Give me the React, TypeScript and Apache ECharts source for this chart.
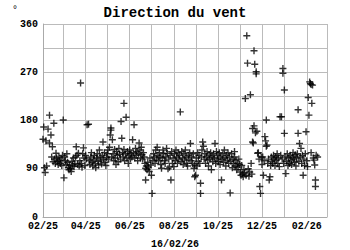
import React, { useEffect, useRef } from "react";
import * as echarts from "echarts";

// Day offsets counted from 2025-02-01, wind direction in degrees
const START = Date.UTC(2025, 1, 1);
const DAY_COUNT = 394; // 2025-02-01 .. 2026-03-01

const febMar2025: [number, number][] = [
  [0, 145], [1, 168], [2, 92], [3, 83], [4, 142], [5, 95], [7, 164], [9, 190], [9, 138], [11, 153],
  [13, 131], [15, 175], [12, 112], [14, 103], [16, 108], [17, 100], [18, 119], [19, 110], [20, 103],
  [21, 98], [22, 112], [23, 105], [24, 100], [25, 108], [26, 96], [27, 115],
  [28, 181], [29, 73], [30, 112], [31, 105], [32, 98], [33, 118], [34, 102], [35, 92], [36, 88],
  [37, 96], [38, 90], [39, 85], [40, 104], [41, 97], [42, 110], [43, 94], [44, 100], [45, 112],
  [46, 131], [47, 115], [48, 98], [49, 119], [50, 95], [51, 105], [52, 250], [53, 100], [54, 93],
  [55, 118], [56, 129], [57, 110], [58, 96],
];

const aprMay2025: [number, number][] = [
  [59, 115], [60, 108], [61, 172], [63, 173], [64, 105], [65, 98], [66, 112], [67, 120], [68, 102],
  [69, 95], [70, 108], [71, 115], [72, 100], [73, 92], [74, 110], [75, 118], [76, 104], [77, 97],
  [78, 125], [79, 112], [80, 106], [81, 99], [82, 115], [83, 140], [84, 108], [85, 120], [86, 102],
  [87, 96], [88, 111],
  [89, 118], [90, 125], [91, 108], [92, 130], [93, 153], [94, 162], [94, 166], [95, 112], [96, 144],
  [97, 118], [98, 105], [99, 126], [100, 110], [101, 98], [102, 122], [103, 115], [104, 103],
  [105, 128], [106, 117], [107, 108], [108, 178], [109, 147], [110, 120], [111, 112], [112, 126],
  [112, 212], [113, 105], [114, 118], [115, 186], [116, 110], [117, 122], [118, 100], [119, 115],
];

const junJul2025: [number, number][] = [
  [120, 125], [121, 108], [122, 118], [123, 112], [124, 144], [125, 120], [126, 172], [127, 110],
  [128, 128], [129, 115], [130, 122], [131, 105], [132, 118], [133, 138], [134, 125], [135, 110],
  [136, 130], [137, 116], [138, 108], [139, 120], [140, 112], [141, 100], [142, 91], [142, 69],
  [143, 95], [144, 88], [145, 102], [146, 93], [147, 85], [148, 110], [149, 97],
  [150, 78], [151, 44], [152, 105], [153, 118], [154, 112], [155, 100], [156, 125], [157, 108],
  [158, 130], [159, 115], [160, 105], [161, 120], [162, 112], [163, 98], [164, 91], [165, 110],
  [166, 125], [167, 118], [168, 105], [169, 100], [170, 112], [171, 128], [172, 119], [173, 90],
  [174, 108], [175, 93], [176, 115], [177, 69], [178, 122], [179, 100], [180, 110],
];

const augSep2025: [number, number][] = [
  [181, 94], [182, 118], [183, 105], [184, 125], [185, 112], [186, 100], [187, 120], [188, 108],
  [189, 115], [190, 196], [191, 103], [192, 122], [193, 110], [194, 98], [195, 118], [196, 106],
  [197, 125], [198, 112], [199, 100], [200, 95], [201, 115], [202, 108], [203, 120], [204, 137],
  [205, 105], [206, 112], [207, 100], [208, 118], [209, 91], [210, 97], [211, 78], [210, 75],
  [212, 110], [213, 95], [214, 120], [215, 104], [216, 115], [217, 100], [218, 63], [218, 44],
  [219, 112], [220, 125], [221, 140], [222, 132], [223, 108], [224, 118], [225, 100], [226, 112],
  [227, 122], [228, 106], [229, 95], [230, 115], [231, 108], [232, 120], [233, 88], [234, 112],
  [235, 103], [236, 118], [237, 110], [238, 137], [239, 100], [240, 122], [241, 108],
];

const octNov2025: [number, number][] = [
  [242, 115], [243, 104], [244, 120], [245, 98], [246, 112], [247, 69], [248, 108], [249, 118],
  [250, 102], [251, 125], [252, 110], [253, 95], [254, 115], [255, 106], [256, 120], [257, 100],
  [258, 112], [259, 45], [260, 104], [261, 118], [262, 92], [263, 108], [264, 100], [265, 122],
  [265, 112], [266, 95], [267, 106], [268, 88], [269, 100], [270, 93], [271, 108], [272, 98],
  [273, 84], [274, 78], [275, 96], [276, 80], [277, 75], [278, 88], [279, 82], [280, 221], [281, 78],
  [282, 338], [283, 287], [284, 90], [285, 76], [286, 84], [287, 228], [288, 100], [289, 80],
  [290, 140], [290, 165], [291, 138], [292, 310], [292, 170], [293, 285], [294, 157], [295, 271],
  [295, 267], [296, 160], [297, 119], [298, 120], [299, 108], [300, 57], [301, 44], [302, 112],
];

const decJan2026: [number, number][] = [
  [303, 98], [304, 112], [305, 78], [306, 105], [307, 150], [308, 142], [309, 181], [309, 132],
  [310, 134], [311, 100], [312, 108], [313, 69], [314, 75], [315, 96], [316, 112], [317, 104],
  [318, 100], [319, 115], [320, 108], [321, 96], [322, 112], [323, 106], [324, 118], [325, 100],
  [326, 110], [327, 94], [328, 187], [329, 115], [330, 187], [331, 108], [332, 277], [332, 268],
  [333, 100],
  [334, 237], [334, 156], [335, 112], [336, 81], [337, 104], [338, 118], [339, 96], [340, 110],
  [341, 100], [342, 115], [343, 106], [344, 98], [345, 112], [346, 120], [347, 108], [348, 102],
  [349, 116], [350, 95], [351, 110], [352, 118], [353, 200], [353, 156], [354, 104], [355, 137],
  [356, 112], [357, 128], [358, 100], [359, 115], [360, 78], [361, 108], [362, 96], [363, 118],
  [364, 159],
];

const feb2026: [number, number][] = [
  [365, 105], [366, 94], [367, 223], [368, 190], [369, 252], [370, 249], [371, 247], [371, 120],
  [372, 212], [373, 246], [374, 110], [375, 106], [376, 97], [377, 69], [377, 57], [378, 115],
  [380, 112],
];

const TITLE = "Direction du vent";
const UNIT = "°";
const DATE_LABEL = "16/02/26";

function pad(n: number) {
  return n < 10 ? "0" + n : "" + n;
}

const categories: string[] = [];
for (let i = 0; i < DAY_COUNT; i++) {
  const d = new Date(START + i * 86400000);
  categories.push(d.getUTCFullYear() + "-" + pad(d.getUTCMonth() + 1) + "-" + pad(d.getUTCDate()));
}

const FONT = "'Liberation Mono', 'DejaVu Sans Mono', monospace";
const CROSS = "path://M2.8,0H4.2V2.8H7V4.2H4.2V7H2.8V4.2H0V2.8H2.8Z";

export default function App() {
  const ref = useRef<HTMLDivElement>(null);
  useEffect(() => {
    if (!ref.current) return;
    const chart = echarts.init(ref.current, undefined, { renderer: "svg" });
    const data = [
      ...febMar2025, ...aprMay2025, ...junJul2025, ...augSep2025,
      ...octNov2025, ...decJan2026, ...feb2026,
    ];
    const isMonthStart = (_i: number, v: string) => v.slice(8) === "01";
    const isLabelDay = (_i: number, v: string) => {
      if (v.slice(8) !== "01") return false;
      const m = parseInt(v.slice(5, 7), 10);
      return m % 2 === 0;
    };
    chart.setOption({
      animation: false,
      backgroundColor: "#ffffff",
      grid: { left: 43, right: 23, top: 24, bottom: 33, containLabel: false },
      title: [
        {
          text: TITLE,
          left: "center",
          top: 1,
          textStyle: { fontFamily: FONT, fontWeight: "bold", fontSize: 14, color: "#000" },
        },
        {
          text: UNIT,
          left: 7,
          top: 0,
          textStyle: { fontFamily: FONT, fontWeight: "normal", fontSize: 10, color: "#000" },
        },
        {
          text: DATE_LABEL,
          left: "center",
          top: 234,
          textStyle: { fontFamily: FONT, fontWeight: "bold", fontSize: 10, color: "#000" },
        },
      ],
      xAxis: {
        type: "category",
        data: categories,
        boundaryGap: false,
        axisLine: { show: true, lineStyle: { color: "#aaaaaa", width: 1 } },
        axisTick: { show: false },
        splitLine: { show: true, interval: isMonthStart, lineStyle: { color: "#bbbbbb", width: 1 } },
        axisLabel: {
          interval: isLabelDay,
          margin: 4,
          fontFamily: FONT,
          fontWeight: "bold",
          fontSize: 10,
          color: "#000",
          formatter: (v: string) => v.slice(5, 7) + "/" + v.slice(2, 4),
        },
      },
      yAxis: {
        type: "value",
        min: 0,
        max: 360,
        interval: 45,
        axisLine: { show: true, lineStyle: { color: "#aaaaaa", width: 1 } },
        axisTick: { show: false },
        splitLine: { show: true, lineStyle: { color: "#bbbbbb", width: 1 } },
        axisLabel: {
          margin: 5,
          fontFamily: FONT,
          fontWeight: "bold",
          fontSize: 10,
          color: "#000",
          formatter: (v: number) => (v % 90 === 0 ? String(v) : ""),
        },
      },
      series: [
        {
          type: "scatter",
          data,
          symbol: CROSS,
          symbolSize: 7,
          itemStyle: { color: "#000000" },
        },
      ],
    });
    return () => chart.dispose();
  }, []);
  return (
    <div
      ref={ref}
      style={{ position: "fixed", left: 0, top: 0, width: 350, height: 250 }}
    />
  );
}
